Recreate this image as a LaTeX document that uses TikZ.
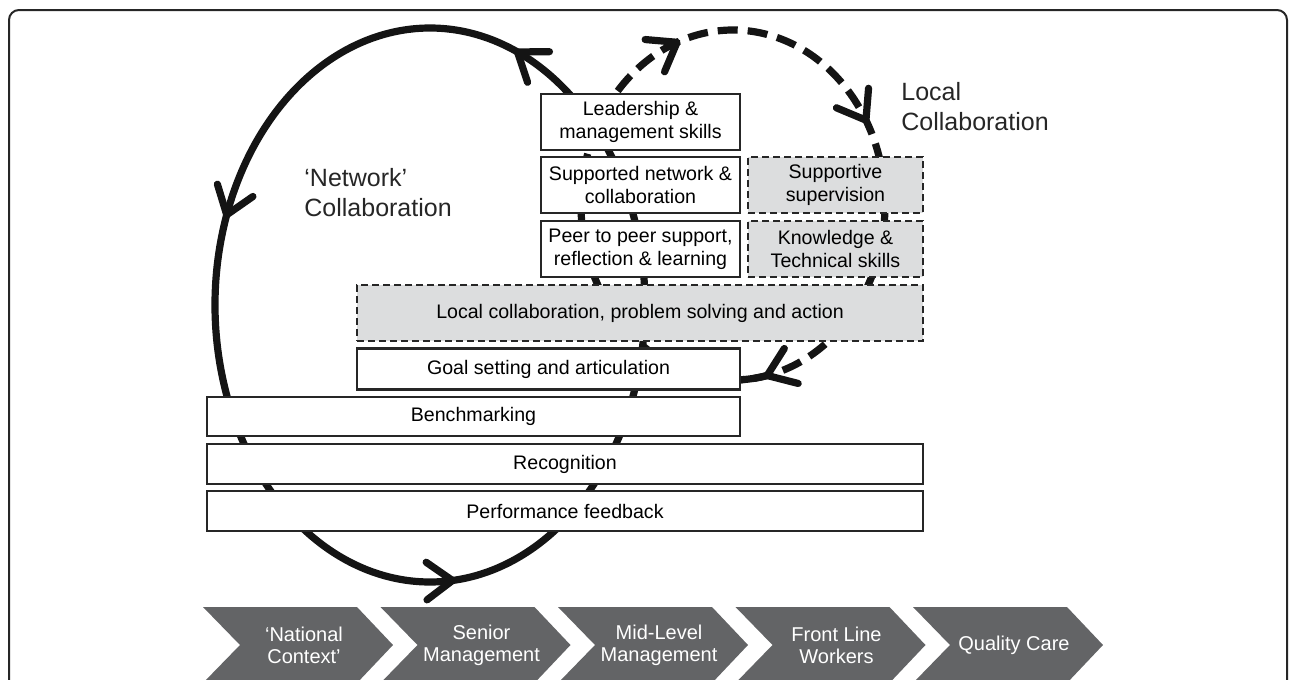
\documentclass[tikz,border=0pt]{standalone}
\usepackage{fontspec}
\setmainfont{Liberation Sans}
\usetikzlibrary{calc}
\definecolor{boxgray}{HTML}{DCDDDE}
\definecolor{chevgray}{HTML}{636466}
\begin{document}
\begin{tikzpicture}[x=0.5pt,y=-0.5pt,
  loopsolid/.style={line width=3.6pt, black!92},
  loopdash/.style={line width=3.6pt, black!92, dash pattern=on 10pt off 5pt},
  tipv/.style={line width=3.6pt, black!92, line cap=round, line join=round},
  plainbox/.style={draw=black!85, line width=1.3pt, fill=white, inner sep=0pt,
    align=center, font=\fontsize{9.8}{11.5}\selectfont},
  dashbox/.style={plainbox, fill=boxgray, dash pattern=on 3.5pt off 2pt},
  biglbl/.style={font=\fontsize{12.5}{15}\selectfont, align=left, anchor=west, inner sep=0pt, text=black!85},
  chevtext/.style={font=\fontsize{10}{11}\selectfont, align=center, text=white, inner sep=0pt}]
\useasboundingbox (0,0) rectangle (1292,680);
% frame
\draw[line width=1pt, black!85, rounded corners=5pt] (9,720) -- (9,10) -- (1287,10) -- (1287,720);
% loops
\draw[loopsolid] plot[domain=0:358, samples=180, smooth cycle] ({430+215*cos(\x)},{305-277*sin(\x)});
\draw[loopdash] plot[domain=0:358, samples=180, smooth cycle] ({733+152*cos(\x)},{205+175*sin(\x)});
\draw[loopsolid] plot[domain=77:89, samples=7, smooth] ({733+152*cos(\x)},{205+175*sin(\x)});
% boxes
\node[plainbox, minimum width=99.5pt, minimum height=28pt] (lead) at (640.5,122) {Leadership \&\\management skills};
\node[plainbox, minimum width=99.5pt, minimum height=28pt] (supp) at (640.5,185) {Supported network \&\\collaboration};
\node[plainbox, minimum width=99.5pt, minimum height=28pt] (peer) at (640.5,249) {Peer to peer support,\\reflection \& learning};
\node[dashbox, minimum width=87.5pt, minimum height=28pt] (supv) at (835.5,185) {Supportive\\supervision};
\node[dashbox, minimum width=87.5pt, minimum height=28pt] (know) at (835.5,249) {Knowledge \&\\Technical skills};
\node[dashbox, minimum width=283pt, minimum height=28pt] (local) at (640,313) {Local collaboration, problem solving and action};
\node[plainbox, minimum width=191.5pt, minimum height=20.5pt] (goal) at (548.5,369) {Goal setting and articulation};
\node[plainbox, minimum width=266.5pt, minimum height=19.5pt] (bench) at (473.5,416.5) {Benchmarking};
\node[plainbox, minimum width=358pt, minimum height=20pt] (recog) at (565,464) {Recognition};
\node[plainbox, minimum width=358pt, minimum height=20pt] (perf) at (565,511) {Performance feedback};
% arrowheads on solid loop (counterclockwise on screen)
\foreach \n/\t in {s1/66, s2/161, s3/276}{
  \coordinate (\n a) at ({430+215*cos(\t)},{305-277*sin(\t)});
  \coordinate (\n b) at ({430+215*cos(\t-10)},{305-277*sin(\t-10)});
  \draw[tipv] ($(\n a)!16pt!36:(\n b)$) -- (\n a) -- ($(\n a)!16pt!-36:(\n b)$);
}
% arrowheads on dashed loop (clockwise on screen)
\foreach \n/\t in {d1/248.4, d2/331, d3/77}{
  \coordinate (\n a) at ({733+152*cos(\t)},{205+175*sin(\t)});
  \coordinate (\n b) at ({733+152*cos(\t-12)},{205+175*sin(\t-12)});
  \draw[tipv] ($(\n a)!16pt!36:(\n b)$) -- (\n a) -- ($(\n a)!16pt!-36:(\n b)$);
}
% labels
\node[biglbl] (netlbl) at (304,193) {‘Network’\\Collaboration};
\node[biglbl] (loclbl) at (901,107) {Local\\Collaboration};
% chevrons
\foreach \i/\t in {0/{‘National\\Context’},1/{Senior\\Management},2/{Mid-Level\\Management},3/{Front Line\\Workers},4/{Quality Care}}{
  \pgfmathsetmacro{\L}{203+177.5*\i}
  \fill[chevgray] (\L,607) -- ({\L+154},607) -- ({\L+190},645) -- ({\L+154},683) -- (\L,683) -- ({\L+37},645) -- cycle;
  \node[chevtext] (chev\i) at ({\L+101},645) {\t};
}
\end{tikzpicture}
\end{document}
